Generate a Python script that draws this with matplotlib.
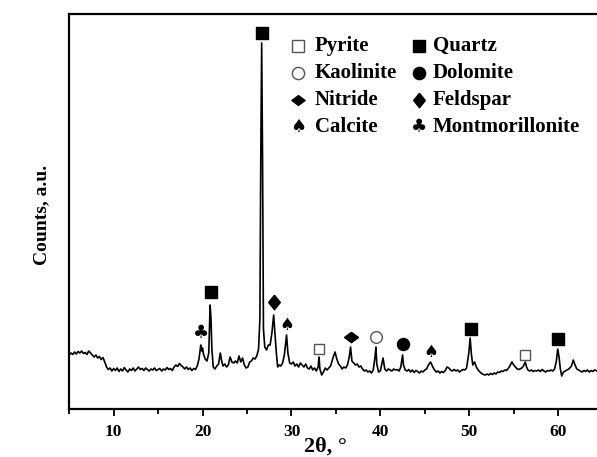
import matplotlib
matplotlib.use("Agg")
import matplotlib.pyplot as plt
from matplotlib.lines import Line2D
from matplotlib.ticker import MultipleLocator

plt.rcParams['font.family'] = ['Liberation Serif', 'DejaVu Sans']
plt.rcParams['font.weight'] = 'bold'

# diffraction trace (2theta in degrees, counts a.u.)
two_theta = [
    5.0, 5.2, 5.4, 5.6, 5.8, 6.0, 6.2, 6.4, 6.6, 6.8, 7.0, 7.2, 7.4, 7.6, 7.8, 8.0,
    8.2, 8.4, 8.6, 8.8, 9.0, 9.2, 9.4, 9.6, 9.8, 10.0, 10.2, 10.4, 10.6, 10.8, 11.0,
    11.2, 11.4, 11.6, 11.8, 12.0, 12.2, 12.4, 12.6, 12.8, 13.0, 13.2, 13.4, 13.6,
    13.8, 14.0, 14.2, 14.4, 14.6, 14.8, 15.0, 15.2, 15.4, 15.6, 15.8, 16.0, 16.2,
    16.4, 16.6, 16.8, 17.0, 17.2, 17.4, 17.6, 17.8, 18.0, 18.2, 18.4, 18.6, 18.8,
    19.0, 19.2, 19.4, 19.6, 19.8, 19.9, 20.0, 20.1, 20.3, 20.5, 20.7, 20.85, 20.95,
    21.05, 21.2, 21.4, 21.6, 21.8, 22.0, 22.15, 22.3, 22.5, 22.7, 22.9, 23.1, 23.3,
    23.5, 23.7, 23.9, 24.1, 24.3, 24.5, 24.7, 24.9, 25.1, 25.3, 25.5, 25.7, 25.9,
    26.1, 26.3, 26.45, 26.55, 26.65, 26.75, 26.85, 27.0, 27.2, 27.4, 27.6, 27.8,
    28.0, 28.15, 28.3, 28.45, 28.6, 28.8, 29.0, 29.2, 29.45, 29.6, 29.8, 30.0, 30.2,
    30.4, 30.6, 30.8, 31.0, 31.2, 31.4, 31.6, 31.8, 32.0, 32.2, 32.4, 32.6, 32.8,
    33.0, 33.1, 33.2, 33.4, 33.6, 33.8, 34.0, 34.2, 34.4, 34.7, 34.9, 35.1, 35.3,
    35.5, 35.7, 35.9, 36.1, 36.3, 36.5, 36.65, 36.8, 37.0, 37.2, 37.4, 37.6, 37.8,
    38.0, 38.2, 38.4, 38.6, 38.8, 39.0, 39.2, 39.4, 39.5, 39.6, 39.8, 40.0, 40.3,
    40.5, 40.7, 40.9, 41.1, 41.3, 41.5, 41.7, 41.9, 42.1, 42.3, 42.5, 42.6, 42.8,
    43.0, 43.2, 43.4, 43.6, 43.8, 44.0, 44.2, 44.4, 44.6, 44.8, 45.0, 45.2, 45.4,
    45.65, 45.9, 46.1, 46.3, 46.5, 46.7, 46.9, 47.1, 47.3, 47.5, 47.7, 47.9, 48.1,
    48.3, 48.5, 48.7, 48.9, 49.1, 49.3, 49.5, 49.7, 49.95, 50.1, 50.25, 50.4, 50.6,
    50.8, 51.0, 51.2, 51.4, 51.6, 51.8, 52.0, 52.2, 52.4, 52.6, 52.8, 53.0, 53.2,
    53.4, 53.6, 53.8, 54.0, 54.2, 54.5, 54.8, 55.0, 55.2, 55.4, 55.6, 55.9, 56.1,
    56.3, 56.45, 56.6, 56.8, 57.0, 57.2, 57.4, 57.6, 57.8, 58.0, 58.2, 58.4, 58.6,
    58.8, 59.0, 59.2, 59.4, 59.6, 59.8, 59.95, 60.1, 60.25, 60.4, 60.6, 60.8, 61.0,
    61.2, 61.5, 61.7, 61.9, 62.1, 62.3, 62.5, 62.7, 62.9, 63.1, 63.3, 63.5, 63.7,
    63.9, 64.1, 64.4,
]
counts = [
    540, 560, 545, 570, 550, 575, 560, 580, 555, 565, 545, 580, 560, 540, 520, 540,
    510, 525, 495, 515, 470, 420, 395, 410, 380, 405, 385, 410, 375, 400, 380,
    415, 390, 370, 400, 385, 410, 380, 400, 420, 395, 405, 385, 410,
    395, 380, 400, 390, 410, 385, 395, 405, 380, 400, 390, 415, 395,
    405, 385, 420, 440, 425, 455, 435, 420, 400, 420, 395, 410, 385,
    405, 395, 430, 500, 640, 580, 610, 550, 500, 480, 560, 1040, 900,
    600, 420, 400, 430, 450, 560, 480, 430, 450, 420, 440, 520, 470,
    460, 480, 460, 530, 470, 510, 440, 410, 420, 470, 480, 510, 500,
    530, 600, 900, 2500, 3660, 2500, 800, 620, 590, 640, 640, 760,
    940, 750, 560, 420, 440, 430, 460, 540, 740, 560, 460, 450, 470,
    430, 450, 420, 460, 440, 420, 450, 410, 400, 430, 390, 410, 380,
    420, 520, 400, 340, 370, 410, 390, 410, 430, 520, 570, 500, 450,
    430, 400, 420, 410, 440, 520, 620, 480, 460, 440, 450, 420, 430,
    400, 380, 390, 370, 380, 360, 390, 520, 620, 450, 370, 380, 510,
    400, 380, 400, 390, 380, 400, 390, 395, 380, 420, 540, 440, 390,
    380, 395, 370, 390, 365, 385, 375, 360, 380, 370, 390, 400, 440,
    470, 420, 390, 370, 380, 360, 375, 365, 385, 420, 410, 390, 380,
    395, 380, 390, 370, 385, 395, 390, 410, 560, 710, 540, 440, 470,
    420, 390, 370, 355, 345, 340, 350, 340, 355, 345, 360, 350, 370,
    365, 380, 375, 390, 385, 420, 470, 440, 420, 400, 395, 410, 430,
    470, 420, 390, 380, 390, 375, 385, 380, 390, 375, 395, 380, 370,
    385, 380, 390, 380, 400, 480, 600, 520, 400, 330, 370, 380, 390,
    400, 430, 490, 440, 400, 390, 380, 370, 385, 375, 390, 370, 385,
    375, 390, 380,
]

# phase markers above the peaks
quartz_x = [20.9, 26.65, 50.15, 60.0]
quartz_y = [1170, 3760, 800, 700]
pyrite_x = [33.1, 56.3]
pyrite_y = [600, 540]
calcite_x = [29.45, 45.65]
calcite_y = [840, 570]
feldspar_x = [28.0]
feldspar_y = [1070]
nitride_x = [36.65]
nitride_y = [720]
kaolinite_x = [39.5]
kaolinite_y = [720]
dolomite_x = [42.5]
dolomite_y = [650]
montm_x = [19.8]
montm_y = [760]

legend_col1 = ['Pyrite', 'Kaolinite', 'Nitride', 'Calcite']
legend_col2 = ['Quartz', 'Dolomite', 'Feldspar', 'Montmorillonite']

feld = [(0, 1), (0.8, 0), (0, -1), (-0.8, 0), (0, 1)]
nitr = [(0, 0.75), (1, 0), (0, -0.75), (-1, 0), (0, 0.75)]
open_style = dict(mfc='white', mec='#555555', mew=1.0)
solid_style = dict(mfc='black', mec='black')

W, H = 597, 457
fig = plt.figure(figsize=(W / 100, H / 100), dpi=100)
ax = fig.add_axes([69.2 / W, 1 - 409 / H, (602.6 - 69.2) / W, (409 - 14) / H])

ax.plot(two_theta, counts, color='black', lw=1.2)

ax.scatter(quartz_x, quartz_y, marker='s', s=72, color='black', zorder=3)
ax.scatter(pyrite_x, pyrite_y, marker='s', s=60, facecolor='white', edgecolor='#555555', lw=1.0, zorder=3)
ax.scatter(kaolinite_x, kaolinite_y, marker='o', s=70, facecolor='white', edgecolor='#555555', lw=1.0, zorder=3)
ax.scatter(dolomite_x, dolomite_y, marker='o', s=75, color='black', zorder=3)
ax.scatter(feldspar_x, feldspar_y, marker=feld, s=110, color='black', zorder=3)
ax.scatter(nitride_x, nitride_y, marker=nitr, s=100, color='black', zorder=3)
for x, y in zip(calcite_x, calcite_y):
    ax.text(x, y, '\u2660', family='DejaVu Sans', fontsize=12, ha='center', va='center')
for x, y in zip(montm_x, montm_y):
    ax.text(x, y, '\u2663', family='DejaVu Sans', fontsize=13, ha='center', va='center')

ax.set_xlim(5, 65)
ax.set_ylim(0, 3950)
ax.set_yticks([])
ax.xaxis.set_major_locator(MultipleLocator(10))
ax.xaxis.set_minor_locator(MultipleLocator(5))
ax.tick_params(axis='x', which='major', direction='out', length=5, width=1.3, labelsize=12.5, pad=6)
ax.tick_params(axis='x', which='minor', direction='out', length=3.6, width=1.3)
for sp in ax.spines.values():
    sp.set_linewidth(1.6)

fig.text(325 / W, 1 - 437 / H, '2\u03b8, \u00b0', ha='center', va='top', fontsize=16, fontweight='bold')
fig.text(42 / W, 1 - 215 / H, 'Counts, a.u.', rotation=90, ha='center', va='center', fontsize=14, fontweight='bold')

# hand-made legend: two columns of symbol + label
rows = [46, 73, 100, 127]


def legend_mark(xp, yp, marker, ms, style):
    fig.add_artist(Line2D([xp / W], [1 - yp / H], transform=fig.transFigure,
                          marker=marker, ms=ms, ls='none', **style))


legend_mark(298, rows[0], 's', 8.6, open_style)
legend_mark(298, rows[1], 'o', 8.8, open_style)
legend_mark(298, rows[2], nitr, 9.5, solid_style)
fig.text(298 / W, 1 - rows[3] / H, '\u2660', family='DejaVu Sans', fontsize=13, ha='center', va='center')
legend_mark(419, rows[0], 's', 8.4, solid_style)
legend_mark(419, rows[1], 'o', 8.8, solid_style)
legend_mark(419, rows[2], feld, 10.5, solid_style)
fig.text(419 / W, 1 - rows[3] / H, '\u2663', family='DejaVu Sans', fontsize=13, ha='center', va='center')

for lab, yy in zip(legend_col1, rows):
    fig.text(315 / W, 1 - yy / H, lab, fontsize=15, fontweight='bold', ha='left', va='center')
for lab, yy in zip(legend_col2, rows):
    fig.text(433 / W, 1 - yy / H, lab, fontsize=15, fontweight='bold', ha='left', va='center')

fig.savefig('out.png', dpi=100)
